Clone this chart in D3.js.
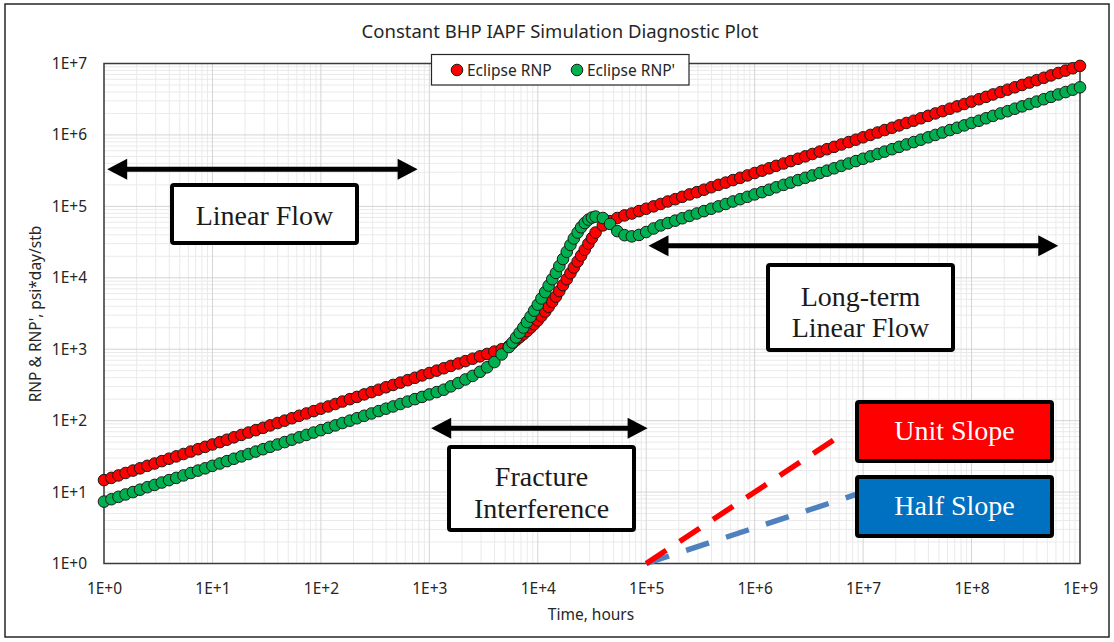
<!DOCTYPE html>
<html><head><meta charset="utf-8">
<script src="https://cdn.jsdelivr.net/npm/d3@7"></script>
<style>body{margin:0;background:#fff} svg{display:block}</style>
</head><body>
<svg id="c" width="1114" height="642"></svg>
<script>
// ---------- DATA ----------
const time = [
 1,1.17,1.36,1.58,1.85,2.15,2.51,2.93,3.41,3.98,4.64,5.41,6.31,7.36,8.58,
 10,11.7,13.6,15.8,18.5,21.5,25.1,29.3,34.1,39.8,46.4,54.1,63.1,73.6,85.8,
 100,117,136,158,185,215,251,293,341,398,464,541,631,736,858,
 1000,1170,1360,1580,1850,2150,2510,2930,3410,3980,4640,
 5410,5840,6310,6810,7360,7940,8580,9260,1.00e4,1.08e4,1.17e4,1.26e4,1.36e4,1.47e4,1.58e4,1.71e4,1.85e4,2.00e4,2.15e4,2.33e4,2.51e4,2.71e4,2.93e4,3.16e4,3.41e4,
 3.98e4,4.64e4,5.41e4,6.31e4,7.36e4,8.58e4,
 1e5,1.17e5,1.36e5,1.58e5,1.85e5,2.15e5,2.51e5,2.93e5,3.41e5,3.98e5,4.64e5,5.41e5,6.31e5,7.36e5,8.58e5,
 1e6,1.17e6,1.36e6,1.58e6,1.85e6,2.15e6,2.51e6,2.93e6,3.41e6,3.98e6,4.64e6,5.41e6,6.31e6,7.36e6,8.58e6,
 1e7,1.17e7,1.36e7,1.58e7,1.85e7,2.15e7,2.51e7,2.93e7,3.41e7,3.98e7,4.64e7,5.41e7,6.31e7,7.36e7,8.58e7,
 1e8,1.17e8,1.36e8,1.58e8,1.85e8,2.15e8,2.51e8,2.93e8,3.41e8,3.98e8,4.64e8,5.41e8,6.31e8,7.36e8,8.58e8,
 1e9
];
// Eclipse RNP (psi*day/stb)
const rnp = [
 14.7,15.8,17.1,18.5,20.0,21.5,23.3,25.1,27.1,29.3,31.6,34.1,36.9,39.8,43.0,46.4,50.1,54.1,58.4,63.1,68.1,73.6,79.4,85.8,92.6,
 100,108,117,126,136,147,158,171,185,200,215,233,251,271,293,316,341,369,398,430,464,501,541,584,631,681,736,794,858,926,
 1000,
 1100,1210,1340,1470,1620,1790,2000,2240,2530,2910,3360,3920,4610,5450,6510,7880,9550,1.16e4,1.39e4,1.69e4,2.04e4,2.47e4,3.00e4,3.60e4,4.30e4,
 5.41e4,6.21e4,6.87e4,7.47e4,
 7.94e4,8.58e4,9.26e4,
 1.00e5,1.08e5,1.17e5,1.26e5,1.36e5,1.47e5,1.58e5,1.71e5,1.85e5,2.00e5,2.15e5,2.33e5,2.51e5,2.71e5,2.93e5,3.16e5,3.41e5,3.69e5,3.98e5,4.30e5,4.64e5,5.01e5,5.41e5,5.84e5,6.31e5,6.81e5,7.36e5,7.94e5,8.58e5,9.26e5,
 1.00e6,1.08e6,1.17e6,1.26e6,1.36e6,1.47e6,1.58e6,1.71e6,1.85e6,2.00e6,2.15e6,2.33e6,2.51e6,2.71e6,2.93e6,3.16e6,3.41e6,3.69e6,3.98e6,4.30e6,4.64e6,5.01e6,5.41e6,5.84e6,6.31e6,6.81e6,7.36e6,7.94e6,8.58e6,9.26e6
];
// Eclipse RNP' (derivative)
const rnpDeriv = [
 7.36,7.94,8.58,9.26,
 10,10.8,11.7,12.6,13.6,14.7,15.8,17.1,18.5,20.0,21.5,23.3,25.1,27.1,29.3,31.6,34.1,36.9,39.8,43.0,46.4,50.1,54.1,58.4,63.1,68.1,73.6,79.4,85.8,92.6,
 100,108,117,126,136,147,158,171,185,200,215,233,
 251,271,302,336,377,423,483,558,661,845,
 1070,1240,1460,1700,2010,2400,2860,3470,4200,5130,6310,7760,9550,1.17e4,1.46e4,1.83e4,2.31e4,2.88e4,3.55e4,4.30e4,5.09e4,5.84e4,6.51e4,6.97e4,7.19e4,
 6.87e4,5.67e4,4.50e4,3.95e4,3.80e4,3.98e4,4.37e4,4.90e4,
 5.41e4,5.84e4,6.31e4,6.81e4,7.36e4,7.94e4,8.58e4,9.26e4,
 1.00e5,1.08e5,1.17e5,1.26e5,1.36e5,1.47e5,1.58e5,1.71e5,1.85e5,2.00e5,2.15e5,2.33e5,2.51e5,2.71e5,2.93e5,3.16e5,3.41e5,3.69e5,3.98e5,4.30e5,4.64e5,5.01e5,5.41e5,5.84e5,6.31e5,6.81e5,7.36e5,7.94e5,8.58e5,9.26e5,
 1.00e6,1.08e6,1.17e6,1.26e6,1.36e6,1.47e6,1.58e6,1.71e6,1.85e6,2.00e6,2.15e6,2.33e6,2.51e6,2.71e6,2.93e6,3.16e6,3.41e6,3.69e6,3.98e6,4.30e6,4.64e6
];
const seriesNames = ["Eclipse RNP", "Eclipse RNP'"];
const xTickValues = [1e0,1e1,1e2,1e3,1e4,1e5,1e6,1e7,1e8,1e9];
const xTickLabels = ["1E+0","1E+1","1E+2","1E+3","1E+4","1E+5","1E+6","1E+7","1E+8","1E+9"];
const yTickValues = [1e0,1e1,1e2,1e3,1e4,1e5,1e6,1e7];
const yTickLabels = ["1E+0","1E+1","1E+2","1E+3","1E+4","1E+5","1E+6","1E+7"];
// slope guide lines [time, value]
const unitSlope = [[1e5, 1], [7e6, 70]];
const halfSlope = [[1e5, 1], [8.5e6, 9.2]];
// regime arrows [t start, t end, value]
const regimeArrows = [[1.07, 780, 3.3e5], [1.04e3, 1.03e5, 78], [1.05e5, 6.3e8, 2.8e4]];

if (time.length !== rnp.length || time.length !== rnpDeriv.length) console.error("length mismatch", time.length, rnp.length, rnpDeriv.length);

// ---------- LAYOUT ----------
const svg = d3.select("#c");
const L = 104, R = 1080, T = 63.5, B = 563.5;
const x = d3.scaleLog().domain([1, 1e9]).range([L, R]);
const y = d3.scaleLog().domain([1, 1e7]).range([B, T]);
const SANS = "'Noto Sans', 'Open Sans', sans-serif";
const SERIF = "'Liberation Serif', 'DejaVu Serif', serif";

svg.append("rect").attr("x", 5).attr("y", 4).attr("width", 1104).attr("height", 633)
  .attr("fill", "#fff").attr("stroke", "#262626").attr("stroke-width", 1.5);

// grid
const minorX = [], minorY = [];
for (let d = 0; d < 9; d++) for (let m = 2; m <= 9; m++) minorX.push(m * Math.pow(10, d));
for (let d = 0; d < 7; d++) for (let m = 2; m <= 9; m++) minorY.push(m * Math.pow(10, d));
const grid = svg.append("g");
grid.selectAll(".mx").data(minorX).join("line").attr("x1", d => x(d)).attr("x2", d => x(d))
  .attr("y1", T).attr("y2", B).attr("stroke", "#eaeaea").attr("stroke-width", 1);
grid.selectAll(".my").data(minorY).join("line").attr("y1", d => y(d)).attr("y2", d => y(d))
  .attr("x1", L).attr("x2", R).attr("stroke", "#eaeaea").attr("stroke-width", 1);
grid.selectAll(".Mx").data(xTickValues).join("line").attr("x1", d => x(d)).attr("x2", d => x(d))
  .attr("y1", T).attr("y2", B).attr("stroke", "#d4d4d4").attr("stroke-width", 1);
grid.selectAll(".My").data(yTickValues).join("line").attr("y1", d => y(d)).attr("y2", d => y(d))
  .attr("x1", L).attr("x2", R).attr("stroke", "#d4d4d4").attr("stroke-width", 1);

// frame
svg.append("rect").attr("x", L).attr("y", T).attr("width", R - L).attr("height", B - T)
  .attr("fill", "none").attr("stroke", "#3a3a3a").attr("stroke-width", 1.5);

// axes
const xAxis = svg.append("g").attr("transform", `translate(0,${B})`)
  .call(d3.axisBottom(x).tickValues(xTickValues).tickFormat((d, i) => xTickLabels[i]).tickSize(0).tickPadding(19));
const yAxis = svg.append("g").attr("transform", `translate(${L},0)`)
  .call(d3.axisLeft(y).tickValues(yTickValues).tickFormat((d, i) => yTickLabels[i]).tickSize(0).tickPadding(17));
[xAxis, yAxis].forEach(g => {
  g.select(".domain").remove();
  g.selectAll("text").attr("font-family", SANS).attr("font-size", 15.5).attr("fill", "#262626");
});

// titles
svg.append("text").attr("x", 560).attr("y", 38).attr("text-anchor", "middle")
  .attr("font-family", SANS).attr("font-size", 18.5).attr("fill", "#262626")
  .text("Constant BHP IAPF Simulation Diagnostic Plot");
svg.append("text").attr("x", 591).attr("y", 620).attr("text-anchor", "middle")
  .attr("font-family", SANS).attr("font-size", 15.5).attr("fill", "#262626").text("Time, hours");
svg.append("text").attr("transform", "translate(41,314) rotate(-90)").attr("text-anchor", "middle")
  .attr("font-family", SANS).attr("font-size", 15.5).attr("fill", "#262626").text("RNP & RNP', psi*day/stb");

// data markers
const colors = ["#ff0000", "#00b050"];
const seriesVals = [rnp, rnpDeriv];
seriesVals.forEach((vals, si) => {
  svg.append("g").selectAll("circle").data(time).join("circle")
    .attr("cx", d => x(d)).attr("cy", (d, i) => y(vals[i])).attr("r", 5.8)
    .attr("fill", colors[si]).attr("stroke", "#1a1a1a").attr("stroke-width", 1);
});

// slope lines
const lineGen = d3.line().x(d => x(d[0])).y(d => y(d[1]));
svg.append("path").attr("d", lineGen(halfSlope)).attr("fill", "none").attr("stroke", "#4f81bd")
  .attr("stroke-width", 5.5).attr("stroke-dasharray", "24,18");
svg.append("path").attr("d", lineGen(unitSlope)).attr("fill", "none").attr("stroke", "#ff0000")
  .attr("stroke-width", 5.5).attr("stroke-dasharray", "24,16");

// annotations
const ann = svg.append("g");
function dblArrow(t0, t1, v) {
  const xa = x(t0), xb = x(t1), yy = y(v), AL = 20, AH = 10.5;
  ann.append("line").attr("x1", xa + AL - 2).attr("x2", xb - AL + 2).attr("y1", yy).attr("y2", yy)
    .attr("stroke", "#000").attr("stroke-width", 5);
  ann.append("path").attr("d", `M${xa},${yy}L${xa + AL},${yy - AH}L${xa + AL},${yy + AH}Z`).attr("fill", "#000");
  ann.append("path").attr("d", `M${xb},${yy}L${xb - AL},${yy - AH}L${xb - AL},${yy + AH}Z`).attr("fill", "#000");
}
regimeArrows.forEach(a => dblArrow(a[0], a[1], a[2]));

function textBox(x0, y0, x1, y1, lines, baselines, fill, color) {
  ann.append("rect").attr("x", x0).attr("y", y0).attr("width", x1 - x0).attr("height", y1 - y0)
    .attr("rx", 2).attr("fill", fill).attr("stroke", "#000").attr("stroke-width", 4);
  lines.forEach((s, i) => ann.append("text").attr("x", (x0 + x1) / 2).attr("y", baselines[i])
    .attr("text-anchor", "middle").attr("font-family", SERIF).attr("font-size", 28).attr("fill", color).text(s));
}
textBox(172, 185, 357, 243, ["Linear Flow"], [225], "#fff", "#1a1a1a");
textBox(449, 447, 634, 530, ["Fracture", "Interference"], [486, 518], "#fff", "#1a1a1a");
textBox(768, 265, 953, 350, ["Long-term", "Linear Flow"], [306, 337], "#fff", "#1a1a1a");
textBox(857, 402, 1052, 461, ["Unit Slope"], [440], "#ff0000", "#fff");
textBox(857, 477, 1052, 536, ["Half Slope"], [515], "#0070c0", "#fff");

// legend
const lg = svg.append("g");
lg.append("rect").attr("x", 431.5).attr("y", 54.5).attr("width", 257.5).attr("height", 30.5)
  .attr("fill", "#fff").attr("stroke", "#262626").attr("stroke-width", 1.2);
const legX = [457, 577];
seriesNames.forEach((n, i) => {
  lg.append("circle").attr("cx", legX[i]).attr("cy", 70).attr("r", 5.8)
    .attr("fill", colors[i]).attr("stroke", "#1a1a1a").attr("stroke-width", 1);
  lg.append("text").attr("x", legX[i] + 10).attr("y", 75.5).attr("font-family", SANS)
    .attr("font-size", 15.5).attr("fill", "#262626").text(n);
});
</script>
</body></html>
